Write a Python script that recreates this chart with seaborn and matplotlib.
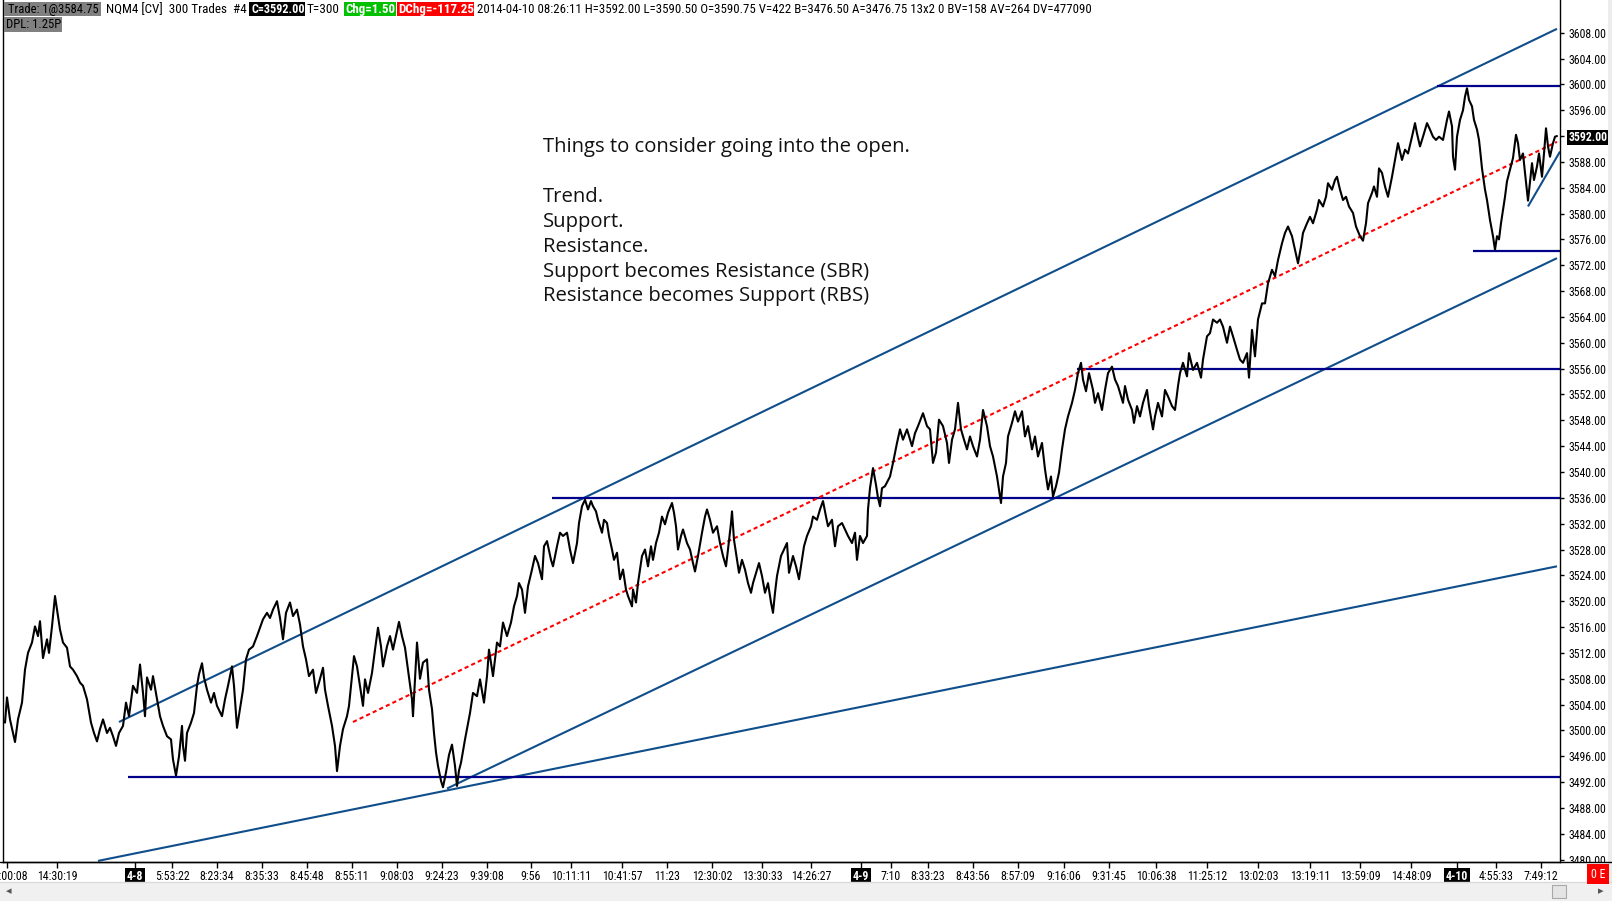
import matplotlib
matplotlib.use("Agg")

import matplotlib.pyplot as plt
import seaborn as sns
from matplotlib.patches import Rectangle
from matplotlib.lines import Line2D
from matplotlib.transforms import Bbox

W, H, DPI = 1612, 901, 100

# --- price path: bar index (one bar ~ one screen column) and last price ---
bar_x = [
    5, 7, 10, 15, 18, 22, 25, 28, 32, 35, 38, 40, 43, 47, 49, 52, 55, 57, 60, 63,
    67, 70, 73, 77, 80, 83, 87, 91, 94, 97, 100, 103, 107, 110, 113, 116, 119, 123, 126, 129,
    133, 137, 140, 143, 145, 147, 151, 153, 157, 160, 163, 167, 171, 173, 176, 179, 182, 183, 185, 187,
    191, 194, 197, 199, 202, 204, 207, 211, 214, 217, 222, 225, 228, 232, 234, 237, 240, 243, 246, 249,
    253, 257, 260, 263, 267, 270, 273, 277, 280, 283, 286, 290, 293, 297, 300, 303, 306, 309, 313, 316,
    319, 323, 325, 328, 332, 335, 337, 340, 343, 347, 349, 352, 354, 357, 360, 363, 365, 368, 372, 375,
    378, 381, 383, 387, 390, 393, 397, 399, 402, 405, 408, 412, 413, 417,
    420, 423, 427, 429, 432, 434, 436, 438, 441, 443, 446, 449, 452, 455, 457, 459, 461, 465, 470, 473,
    477, 480, 484, 487, 489, 493, 497, 500, 503, 507, 511, 514, 517, 519, 522, 525, 528, 532, 535, 538,
    542, 544, 547, 551, 553, 557, 560, 563, 567, 570, 573, 577, 579, 582, 585, 588, 591, 593, 596, 598,
    602, 604, 607, 609, 612, 614, 617, 620, 623, 626, 628, 632, 633, 636, 638, 642, 645, 648, 651, 653,
    656, 659, 662, 665, 668, 672, 674, 676, 678, 681, 683, 687, 690, 693, 695, 698, 702, 705, 707, 710,
    713, 717, 720, 723, 726, 728, 731, 732, 734, 737, 739, 742, 745, 748, 751, 753, 757, 759, 762, 765,
    768, 771, 773, 775, 777, 781, 784, 787, 789, 793, 796, 799, 802, 804, 807, 811, 813, 817, 820, 823,
    826, 828, 832, 835, 838, 842, 845, 848, 852, 855, 857, 860, 863, 867,
    868, 870, 873, 876, 878, 880, 882, 885, 890, 893, 897, 900, 903, 907, 912, 915, 918, 923, 927, 930,
    933, 936, 939, 943, 947, 949, 952, 955, 958, 961, 964, 967, 970, 973, 977, 980, 983, 987, 990, 993,
    997, 999, 1001, 1003, 1006, 1008, 1012, 1015, 1018, 1022, 1025, 1028, 1032, 1035, 1038, 1042, 1045, 1048, 1051, 1053,
    1056, 1059, 1062, 1065, 1068, 1072, 1075, 1078, 1081, 1083, 1086, 1089, 1093, 1095, 1098, 1102, 1105, 1108, 1112, 1115,
    1118, 1123, 1125, 1128, 1132, 1134, 1137, 1140, 1143, 1147, 1149, 1153, 1155, 1158, 1162, 1165, 1168, 1172, 1175, 1178,
    1180, 1183, 1187, 1189, 1193, 1197, 1201, 1203, 1207, 1210, 1213, 1217, 1220, 1223, 1227, 1230, 1233, 1237, 1240, 1243,
    1247, 1249, 1252, 1255, 1258, 1262, 1265, 1268, 1272, 1275, 1278, 1282, 1285, 1288, 1292, 1295, 1298, 1301, 1303, 1307,
    1310, 1313, 1317, 1319, 1323, 1326, 1328, 1332, 1335, 1337, 1340, 1343, 1346, 1349, 1353, 1356, 1360, 1363, 1366, 1368,
    1372, 1374, 1377, 1379, 1382, 1385, 1388, 1392, 1395, 1398, 1402, 1405, 1408, 1412, 1415, 1417, 1420, 1423, 1427, 1430,
    1433, 1436, 1439, 1443, 1447, 1449, 1452, 1453, 1455, 1457, 1460, 1463, 1465, 1467, 1469, 1472, 1474, 1477, 1479,
    1480, 1482, 1485, 1487, 1490, 1493, 1495, 1497, 1499, 1501, 1503, 1505, 1507, 1510, 1513, 1516, 1518, 1520, 1523, 1525,
    1528, 1532, 1534, 1537, 1539, 1542, 1544, 1546, 1548, 1550, 1553, 1555, 1557,
]
price = [
    3501.2, 3505.1, 3501.7, 3498.2, 3501.7, 3504.3, 3509.4, 3512.0, 3513.6, 3516.1, 3514.6, 3516.9, 3511.2, 3514.1, 3512.0, 3516.1, 3520.8, 3518.7, 3515.6, 3513.6,
    3512.8, 3509.9, 3509.4, 3508.4, 3507.4, 3506.9, 3504.8, 3501.2, 3499.6, 3498.3, 3500.2, 3501.7, 3499.6, 3500.4, 3499.1, 3497.6, 3499.6, 3500.7, 3504.3, 3502.2,
    3506.9, 3505.8, 3510.2, 3505.8, 3502.2, 3508.2, 3506.3, 3508.4, 3504.8, 3502.2, 3500.7, 3499.1, 3498.6, 3495.5, 3493.0, 3496.0, 3500.7, 3497.6, 3495.3, 3499.6,
    3501.2, 3502.7, 3506.9, 3508.7, 3510.4, 3508.2, 3506.3, 3504.3, 3505.8, 3503.8, 3502.2, 3504.8, 3506.9, 3509.9, 3506.9, 3500.4, 3503.3, 3506.3, 3511.0, 3512.5,
    3513.0, 3514.6, 3515.9, 3517.2, 3518.2, 3517.4, 3518.7, 3520.0, 3517.4, 3514.1, 3518.2, 3519.8, 3517.7, 3518.7, 3516.4, 3513.0, 3511.0, 3508.4, 3509.4, 3505.8,
    3507.4, 3509.7, 3506.3, 3503.8, 3500.7, 3497.6, 3493.7, 3497.6, 3500.2, 3502.2, 3503.8, 3508.4, 3511.5, 3509.9, 3506.9, 3503.8, 3507.9, 3505.8, 3508.9, 3512.5,
    3515.9, 3513.0, 3509.9, 3513.0, 3514.6, 3512.5, 3515.4, 3516.8, 3514.6, 3512.8, 3509.4, 3504.8, 3502.2, 3513.6,
    3508.0, 3510.5, 3511.0, 3506.3, 3503.3, 3499.6, 3496.6, 3494.5, 3492.2, 3491.2, 3493.5, 3496.2, 3497.8, 3494.5, 3491.4, 3493.8, 3495.0, 3498.6, 3502.7, 3505.8,
    3505.3, 3507.9, 3504.3, 3508.4, 3512.5, 3508.4, 3513.6, 3513.0, 3516.7, 3514.6, 3516.7, 3519.2, 3520.8, 3522.8, 3521.8, 3518.2, 3522.3, 3524.9, 3527.0, 3525.9,
    3523.4, 3528.5, 3529.3, 3526.4, 3525.4, 3528.5, 3530.6, 3530.1, 3530.6, 3528.0, 3525.9, 3529.0, 3532.1, 3534.7, 3535.7, 3534.2, 3535.5, 3534.7, 3533.9, 3532.6,
    3530.6, 3532.6, 3532.1, 3530.1, 3528.0, 3526.4, 3527.5, 3523.4, 3524.9, 3521.8, 3520.8, 3519.2, 3521.8, 3519.8, 3522.8, 3527.0, 3528.0, 3525.4, 3528.5, 3526.4,
    3529.0, 3530.6, 3533.1, 3531.9, 3533.7, 3535.2, 3533.7, 3531.6, 3528.0, 3530.1, 3531.1, 3529.0, 3528.0, 3525.9, 3524.6, 3527.0, 3530.6, 3533.1, 3534.2, 3532.6,
    3530.6, 3531.6, 3529.0, 3527.0, 3525.4, 3528.0, 3532.1, 3533.9, 3529.5, 3526.4, 3524.4, 3526.4, 3524.9, 3522.8, 3521.3, 3522.8, 3524.9, 3525.9, 3523.9, 3521.3,
    3522.8, 3519.8, 3518.2, 3521.3, 3523.9, 3527.0, 3528.0, 3529.0, 3524.4, 3527.0, 3525.4, 3523.4, 3526.4, 3528.5, 3530.1, 3531.6, 3533.1, 3532.6, 3534.2, 3535.5,
    3533.1, 3531.6, 3532.6, 3528.5, 3531.6, 3532.1, 3531.1, 3530.1, 3529.0, 3530.6, 3526.4, 3530.1, 3529.0, 3530.1,
    3534.2, 3537.5, 3540.6, 3538.0, 3536.0, 3534.7, 3537.5, 3537.8, 3539.3, 3541.4, 3544.5, 3546.6, 3545.0, 3546.6, 3544.0, 3546.0, 3547.1, 3549.1, 3547.1, 3546.6,
    3541.4, 3543.0, 3548.1, 3547.1, 3544.5, 3541.4, 3545.0, 3546.6, 3550.7, 3546.6, 3545.0, 3543.5, 3545.5, 3544.0, 3542.4, 3545.0, 3549.6, 3547.1, 3544.0, 3542.4,
    3539.3, 3537.3, 3535.2, 3539.3, 3541.4, 3545.5, 3547.6, 3549.4, 3547.8, 3549.4, 3545.5, 3547.1, 3543.5, 3545.5, 3542.4, 3544.5, 3540.4, 3537.3, 3539.3, 3536.2,
    3537.8, 3539.9, 3543.5, 3546.6, 3548.6, 3550.7, 3552.7, 3555.3, 3556.9, 3554.3, 3552.5, 3555.3, 3552.7, 3550.7, 3552.2, 3549.6, 3552.7, 3555.3, 3556.3, 3554.3,
    3553.3, 3550.7, 3553.3, 3551.2, 3549.6, 3547.6, 3550.2, 3548.6, 3550.7, 3552.7, 3550.2, 3546.6, 3548.6, 3550.7, 3548.6, 3552.7, 3551.7, 3550.2, 3549.6, 3553.3,
    3555.3, 3556.9, 3554.8, 3558.4, 3555.8, 3556.9, 3554.6, 3557.4, 3561.0, 3561.5, 3563.6, 3563.1, 3563.6, 3562.5, 3560.0, 3562.5, 3561.0, 3558.9, 3557.4, 3556.9,
    3558.4, 3554.6, 3562.0, 3557.9, 3563.6, 3566.1, 3566.1, 3569.2, 3571.3, 3570.3, 3572.8, 3575.4, 3577.0, 3578.0, 3576.5, 3574.4, 3572.3, 3574.9, 3577.0, 3578.5,
    3579.5, 3578.5, 3580.6, 3582.1, 3581.1, 3582.6, 3584.7, 3583.7, 3585.2, 3585.7, 3583.7, 3582.1, 3582.6, 3581.1, 3580.1, 3578.0, 3576.5, 3575.8, 3578.5, 3581.6,
    3583.2, 3584.2, 3582.6, 3587.0, 3586.3, 3584.2, 3582.6, 3585.7, 3588.3, 3590.9, 3588.3, 3589.9, 3589.3, 3591.9, 3594.0, 3592.4, 3590.4, 3591.9, 3594.0, 3593.0,
    3591.9, 3591.4, 3591.9, 3591.4, 3594.5, 3595.8, 3593.5, 3588.8, 3586.8, 3591.9, 3594.5, 3596.0, 3598.1, 3599.4, 3597.6, 3596.6, 3594.5, 3593.0, 3591.4,
    3590.0, 3587.0, 3583.7, 3582.1, 3579.0, 3576.5, 3574.4, 3576.5, 3576.0, 3578.5, 3580.6, 3582.6, 3585.0, 3586.8, 3588.6, 3592.2, 3590.9, 3588.3, 3589.3, 3586.3,
    3582.0, 3587.8, 3585.2, 3587.3, 3589.3, 3585.7, 3589.3, 3593.2, 3590.4, 3588.8, 3590.9, 3591.9, 3592.0,
]

# --- drawn trend lines: (bar, price) end points ---
upper_bar, upper_px = [119, 1557], [3501.3, 3608.6]
lower_bar, lower_px = [447, 1557], [3491.0, 3573.1]
base_bar, base_px = [98, 1557], [3479.8, 3525.4]
mid_bar, mid_px = [353, 1557], [3501.3, 3591.1]
short_bar, short_px = [1528, 1560], [3581.1, 3589.6]

# horizontal support / resistance levels and the bar where each starts
levels = [3492.75, 3536.0, 3556.0, 3599.75, 3574.25]
level_from = [128, 552, 1077, 1437, 1473]

# --- axes ---
x_lo, x_hi = 3, 1560
y_lo, y_hi = 3479.63, 3613.06
price_ticks = list(range(3480, 3612, 4))
last_price = "3592.00"

tick_bars = [7, 57, 135, 172, 217, 262, 307, 352, 397, 442, 487, 531, 571, 622, 667, 712, 762, 811,
             861, 891, 928, 973, 1018, 1064, 1109, 1156, 1207, 1258, 1310, 1360, 1411, 1457, 1496, 1541]
tick_times = ["15:00:08", "14:30:19", "4-8", "5:53:22", "8:23:34", "8:35:33", "8:45:48", "8:55:11",
              "9:08:03", "9:24:23", "9:39:08", "9:56", "10:11:11", "10:41:57", "11:23", "12:30:02",
              "13:30:33", "14:26:27", "4-9", "7:10", "8:33:23", "8:43:56", "8:57:09", "9:16:06",
              "9:31:45", "10:06:38", "11:25:12", "13:02:03", "13:19:11", "13:59:09", "14:48:09",
              "4-10", "4:55:33", "7:49:12"]
day_marks = ["4-8", "4-9", "4-10"]

notes = ["Things to consider going into the open.", "", "Trend.", "Support.", "Resistance.",
         "Support becomes Resistance (SBR)", "Resistance becomes Support (RBS)"]

# header strip: text, left px, right px (text span), background, text colour, row
header_text = ["Trade: 1@3584.75", "NQM4 [CV]  300 Trades  #4", "C=3592.00", "T=300", "Chg=1.50",
               "DChg=-117.25",
               "2014-04-10 08:26:11 H=3592.00 L=3590.50 O=3590.75 V=422 B=3476.50 A=3476.75 "
               "13x2 0 BV=158 AV=264 DV=477090",
               "DPL: 1.25P"]
header_left = [8, 106, 251, 307, 345, 398, 477, 6]
header_right = [99, 247, 304, 342, 395, 473, 1089, 61]
header_box = [(4, 101), None, (249, 305), None, (344, 396), (397, 474), None, (4, 62)]
header_bg = ["#808080", None, "#000000", None, "#00C000", "#FF0000", None, "#808080"]
header_fg = ["#000000", "#000000", "#FFFFFF", "#000000", "#FFFFFF", "#FFFFFF", "#000000", "#000000"]
header_row = [0, 0, 0, 0, 0, 0, 0, 1]

NARROW = ["Liberation Sans Narrow", "Roboto Condensed", "DejaVu Sans"]
CHANNEL = "#104E8B"
LEVEL = "#00008B"

sns.set_style("white")
plt.rcParams["font.family"] = NARROW
plt.rcParams["font.stretch"] = "condensed"


def fx(x):
    return x / W


def fy(y):
    return 1 - y / H


def box(fig, x0, y0, x1, y1, fc, ec="none", z=1):
    fig.add_artist(Rectangle((fx(x0), fy(y1)), (x1 - x0) / W, (y1 - y0) / H,
                             transform=fig.transFigure, fc=fc, ec=ec, lw=0.8, zorder=z))


def text_width(artist, renderer):
    return artist.get_window_extent(renderer).width


fig = plt.figure(figsize=(W / DPI, H / DPI), dpi=DPI, facecolor="white")
renderer = fig.canvas.get_renderer()
ax = fig.add_axes([fx(x_lo), fy(862), (x_hi - x_lo) / W, 862 / H])
ax.set_xlim(x_lo, x_hi)
ax.set_ylim(y_lo, y_hi)

# trend lines and levels
ax.plot(base_bar, base_px, color=CHANNEL, lw=1.5, solid_capstyle="butt")
ax.plot(lower_bar, lower_px, color=CHANNEL, lw=1.5, solid_capstyle="butt")
ax.plot(upper_bar, upper_px, color=CHANNEL, lw=1.5, solid_capstyle="butt")
ax.plot(short_bar, short_px, color=CHANNEL, lw=1.5, solid_capstyle="butt")
ax.hlines(levels, level_from, x_hi, colors=LEVEL, lw=1.6)
ax.plot(mid_bar, mid_px, color="#FF0000", lw=1.5, dashes=(2.0, 1.5))

# price path
sns.lineplot(x=bar_x, y=price, color="black", lw=1.5, estimator=None, sort=False, ax=ax)

ax.spines["top"].set_visible(False)
for side in ["left", "right", "bottom"]:
    ax.spines[side].set_color("black")
    ax.spines[side].set_linewidth(1.0)
ax.set_xlabel("")
ax.set_ylabel("")
ax.grid(False)

# right price scale; size the font so "3608.00" is ~38 px wide as in the reference
probe = fig.text(0, 0, "3608.00", fontsize=9)
y_size = min(9.5, 9 * 38 / text_width(probe, renderer))
probe.set_text("14:30:19")
x_size = min(9.5, 9 * 41 / text_width(probe, renderer))
probe.remove()

ax.yaxis.tick_right()
ax.set_yticks(price_ticks, [f"{v:.2f}" for v in price_ticks])
ax.tick_params(axis="y", left=False, labelleft=False, right=True, labelright=True,
               direction="out", length=3, width=1, pad=3, labelsize=y_size, colors="black")
clip = Bbox.from_extents(x_hi, H - 862, W, H)
for lab in ax.get_yticklabels():
    if lab.get_text() == last_price:
        lab.set_color("white")
        lab.set_fontweight("bold")
        lab.set_bbox(dict(boxstyle="square,pad=0.12", fc="black", ec="none"))
    if lab.get_text() == "3480.00":
        lab.set_clip_on(True)
        lab.set_clip_box(clip)

# time axis
ax.set_xticks(tick_bars, tick_times)
ax.tick_params(axis="x", bottom=True, direction="out", length=4, width=1, pad=2,
               labelsize=x_size, colors="black")
for lab in ax.get_xticklabels():
    if lab.get_text() in day_marks:
        lab.set_color("white")
        lab.set_fontweight("bold")
        lab.set_bbox(dict(boxstyle="square,pad=0.18", fc="black", ec="none"))

# x-axis line continues under the price scale
fig.add_artist(Line2D([0, 1], [fy(862), fy(862)], transform=fig.transFigure,
                      color="black", lw=1.0))

# annotation
for i, line in enumerate(notes):
    fig.text(fx(543), fy(152 + 24.9 * i), line, fontsize=14.6, family=["Open Sans", "DejaVu Sans"],
             stretch="normal", color="#111111", ha="left", va="baseline")

# header strip, each piece fitted to its span in the reference
row_mid = [9.2, 24.7]
row_span = [(1.7, 16.0), (17.0, 32.0)]
for txt, x0, x1, bx, bg, fg, row in zip(header_text, header_left, header_right, header_box,
                                        header_bg, header_fg, header_row):
    if bg is not None:
        box(fig, bx[0], row_span[row][0], bx[1], row_span[row][1], bg, z=2)
    bold = bg in ("#000000", "#00C000", "#FF0000")
    t = fig.text(fx(x0), fy(row_mid[row]), txt, fontsize=9, color=fg, ha="left", va="center",
                 fontweight="bold" if bold else "normal", zorder=3)
    size = 9 * (x1 - x0) / text_width(t, renderer)
    t.set_fontsize(max(5.5, min(9.5, size)))

# status cell, scroll bar, window edge
fig.text(fx(1598), fy(874), "0 E", fontsize=x_size, color="white", ha="center", va="center",
         bbox=dict(boxstyle="square,pad=0.3", fc="#FF0000", ec="none"))
box(fig, 0, 882, W, H, "#F0F0F0")
fig.add_artist(Line2D([0, 1], [fy(882), fy(882)], transform=fig.transFigure,
                      color="#DADADA", lw=1.0))
box(fig, 1552, 885, 1566, 898, "#E4E4E4", ec="#A8A8A8", z=2)
fig.text(fx(9), fy(891.5), "\u25c2", fontsize=8, color="#555555", ha="center", va="center",
         family=["DejaVu Sans"], stretch="normal")
fig.text(fx(1601), fy(891.5), "\u25b8", fontsize=8, color="#555555", ha="center", va="center",
         family=["DejaVu Sans"], stretch="normal")
box(fig, 1608, 0, W, 882, "#ECECEC")

fig.savefig("out.png", dpi=DPI, facecolor="white")
plt.close(fig)
